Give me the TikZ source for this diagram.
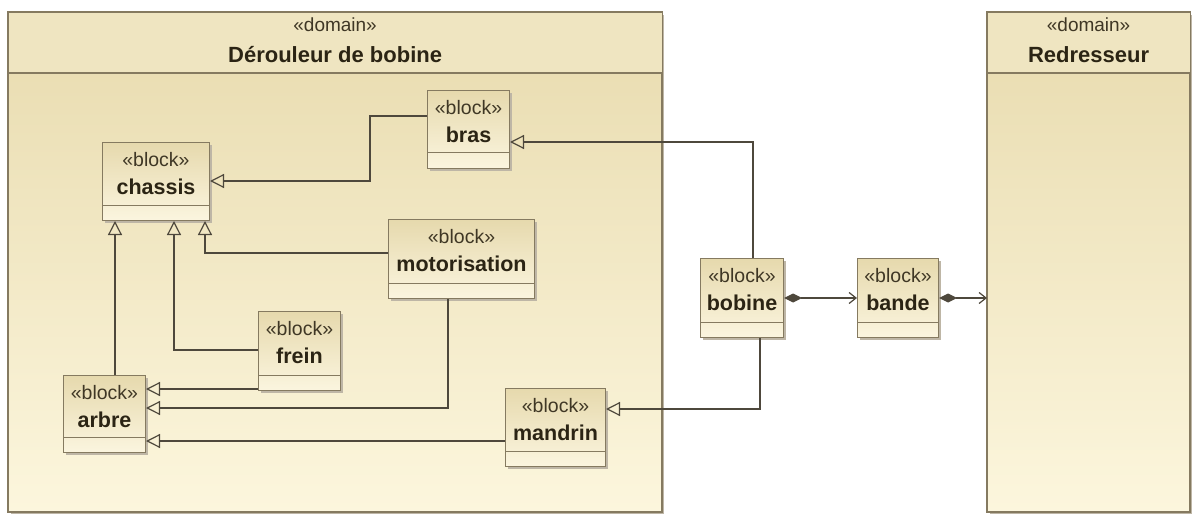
\documentclass[tikz,border=0pt]{standalone}
\usepackage{fontspec}
\setmainfont{Liberation Sans}
\usetikzlibrary{arrows.meta,calc}
\definecolor{bordc}{HTML}{857A60}
\definecolor{linec}{HTML}{4E483C}
\definecolor{shadowc}{HTML}{BEB6A6}
\definecolor{blktop}{HTML}{E6D9AD}
\definecolor{blkbot}{HTML}{FBF5DF}
\definecolor{domtop}{HTML}{E8DBAE}
\definecolor{dombot}{HTML}{FCF6DD}
\definecolor{domhead}{HTML}{EFE5C1}
\definecolor{txtc}{HTML}{2B2414}
\definecolor{sttc}{HTML}{3F3725}
\tikzset{
  blk/.style={draw=bordc, line width=1pt, top color=blktop, bottom color=blkbot, inner sep=0pt, rectangle},
  dombox/.style={draw=bordc, line width=1.2pt, top color=domtop, bottom color=dombot, inner sep=0pt, rectangle},
  bord/.style={draw=bordc, line width=1pt},
  stereo/.style={font=\fontsize{19.5}{21}\selectfont, text=sttc, inner sep=0pt},
  bname/.style={font=\fontsize{21.5}{23}\selectfont\bfseries, text=txtc, inner sep=0pt},
  dstereo/.style={font=\fontsize{19}{21}\selectfont, text=sttc, inner sep=0pt},
  dname/.style={font=\fontsize{22}{24}\selectfont\bfseries, text=txtc, inner sep=0pt},
  gen/.style={draw=linec, line width=1.2pt, -{Triangle[open, length=14pt, width=14pt, line width=1.2pt]}},
  comp/.style={draw=linec, line width=1.2pt, {Diamond[length=18pt, width=9pt]}-{Straight Barb[length=7pt, width=11pt, line width=1.2pt]}},
}
% name, left, top, width, height, label
\newcommand\umlblock[6]{%
  \fill[shadowc] (#2+3,#3+3) rectangle ++(#4,#5);
  \node[blk, anchor=north west, minimum width=#4pt, minimum height=#5pt] (#1) at (#2,#3) {};
  \draw[bord] ($(#1.south west)+(0,-16)$) -- ($(#1.south east)+(0,-16)$);
  \node[stereo] (#1-st) at ($(#1.north)+(0,17.5)$) {«block»};
  \node[bname] (#1-nm) at ($(#1.north)+(0,45)$) {#6};
}
% name, left, top, width, height, title
\newcommand\umldomain[6]{%
  \fill[shadowc] (#2+3,#3+3) rectangle ++(#4,#5);
  \node[dombox, anchor=north west, minimum width=#4pt, minimum height=#5pt] (#1) at (#2,#3) {};
  \fill[domhead] ($(#1.north west)+(0.6,0.6)$) rectangle ($(#1.north east)+(-0.6,61)$);
  \draw[bord, line width=1.2pt] ($(#1.north west)+(0,61)$) -- ($(#1.north east)+(0,61)$);
  \draw[bord, line width=1.2pt] (#1.north west) rectangle (#1.south east);
  \node[dstereo] (#1-st) at ($(#1.north)+(0,13)$) {«domain»};
  \node[dname] (#1-nm) at ($(#1.north)+(0,43)$) {#6};
}
\begin{document}
\begin{tikzpicture}[x=1pt,y=-1pt]
\useasboundingbox (0,0) rectangle (1192,516);
\fill[white] (0,0) rectangle (1192,516);

\umldomain{derouleur}{8}{12}{653}{499}{Dérouleur de bobine}
\umldomain{redr}{987}{12}{202}{499}{Redresseur}

\umlblock{chassis}{102}{142}{107}{78}{chassis}
\umlblock{bras}{427}{90}{82}{78}{bras}
\umlblock{motorisation}{388}{219}{146}{79}{motorisation}
\umlblock{frein}{258}{311}{82}{79}{frein}
\umlblock{arbre}{63}{375}{82}{77}{arbre}
\umlblock{mandrin}{505}{388}{100}{78}{mandrin}
\umlblock{bobine}{700}{258}{83}{79}{bobine}
\umlblock{bande}{857}{258}{81}{79}{bande}

\coordinate (k1) at (370,116);
\coordinate (k2) at (370,181);
\coordinate (k3) at (753,142);
\coordinate (k4) at (115,300);
\coordinate (k5) at (174,350);
\coordinate (k6) at (205,253);
\coordinate (k7) at (0,389);
\coordinate (k8) at (448,408);
\coordinate (k9) at (0,441);
\coordinate (k10) at (760,409);
\coordinate (k11) at (0,298);

\draw[gen] (bras.west |- k1) -- (k1) -- (k2) -- (chassis.east |- k2);
\draw[gen] (bobine.north -| k3) -- (k3) -- (bras.east |- k3);
\draw[gen] (arbre.north -| k4) -- (chassis.south -| k4);
\draw[gen] (frein.west |- k5) -- (k5) -- (chassis.south -| k5);
\draw[gen] (motorisation.west |- k6) -- (k6) -- (chassis.south -| k6);
\draw[gen] (frein.west |- k7) -- (arbre.east |- k7);
\draw[gen] (motorisation.south -| k8) -- (k8) -- (arbre.east |- k8);
\draw[gen] (mandrin.west |- k9) -- (arbre.east |- k9);
\draw[gen] (bobine.south -| k10) -- (k10) -- (mandrin.east |- k10);
\draw[comp] (bobine.east |- k11) -- (bande.west |- k11);
\draw[comp] (bande.east |- k11) -- (redr.west |- k11);
\end{tikzpicture}
\end{document}
